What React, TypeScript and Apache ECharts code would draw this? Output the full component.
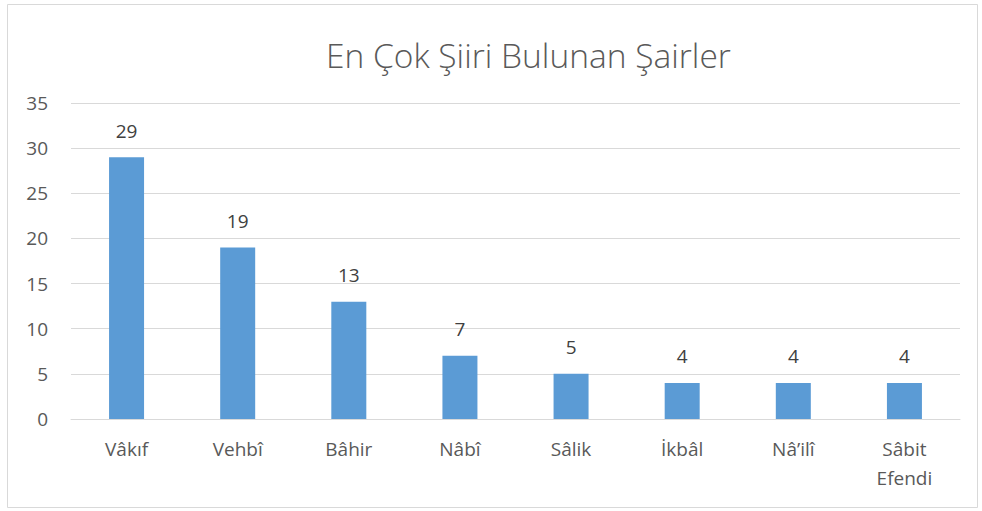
import React, { useEffect, useRef } from "react";
import * as echarts from "echarts";

const title = "En Çok Şiiri Bulunan Şairler";
const categories = ["Vâkıf", "Vehbî", "Bâhir", "Nâbî", "Sâlik", "İkbâl", "Nâ’ilî", "Sâbit Efendi"];
const values = [29, 19, 13, 7, 5, 4, 4, 4];

export default function App() {
  const ref = useRef<HTMLDivElement>(null);
  useEffect(() => {
    const chart = echarts.init(ref.current!, null, { renderer: "svg" });
    const font = "'Open Sans', 'Noto Sans', sans-serif";
    chart.setOption({
      animation: false,
      backgroundColor: "#ffffff",
      textStyle: { fontFamily: font },
      title: {
        text: title,
        left: 321,
        top: 33,
        textStyle: { fontFamily: font, fontSize: 33.5, fontWeight: 300, color: "#595959" },
      },
      graphic: [
        {
          type: "rect",
          shape: { x: 7.5, y: 4.5, width: 970, height: 503 },
          style: { fill: "none", stroke: "#d9d9d9", lineWidth: 1 },
          silent: true,
        },
      ],
      grid: { left: 71, right: 22, top: 103, bottom: 92 },
      xAxis: {
        type: "category",
        data: categories,
        axisLine: { show: true, lineStyle: { color: "#d9d9d9" } },
        axisTick: { show: false },
        axisLabel: {
          color: "#595959",
          fontSize: 19,
          fontFamily: font,
          margin: 15,
          lineHeight: 29,
          formatter: (v: string) => v.replace(" ", "\n"),
        },
      },
      yAxis: {
        type: "value",
        min: 0,
        max: 35,
        interval: 5,
        axisLine: { show: false },
        axisTick: { show: false },
        splitLine: { lineStyle: { color: "#d9d9d9" } },
        axisLabel: { color: "#595959", fontSize: 19, fontFamily: font, margin: 23 },
      },
      series: [
        {
          type: "bar",
          data: values,
          barWidth: "31.5%",
          itemStyle: { color: "#5b9bd5" },
          label: {
            show: true,
            position: "top",
            distance: 17,
            color: "#404040",
            fontSize: 19,
            fontFamily: font,
          },
        },
      ],
    });
    return () => chart.dispose();
  }, []);
  return <div ref={ref} style={{ position: "fixed", left: 0, top: 0, width: 982, height: 511 }} />;
}
